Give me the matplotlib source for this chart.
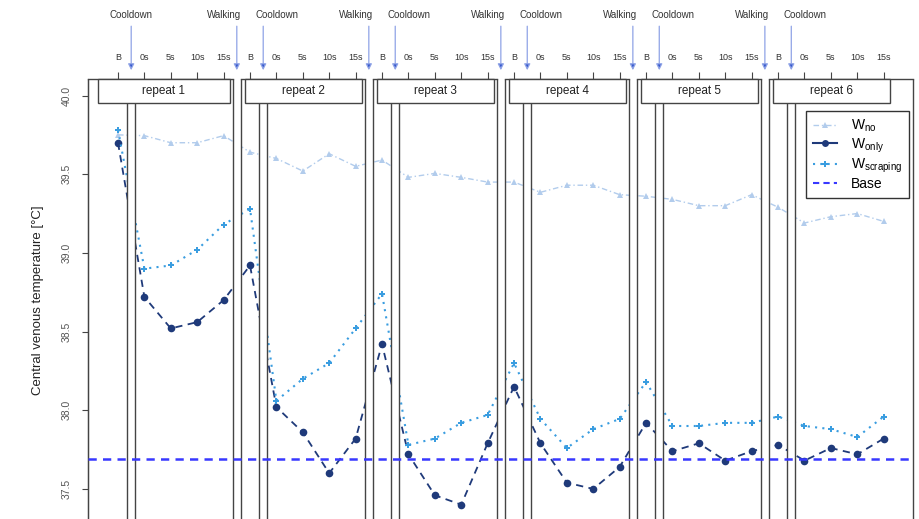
import numpy as np
import matplotlib
matplotlib.use("Agg")
from matplotlib import pyplot as plt
from matplotlib.lines import Line2D
from matplotlib.patches import Rectangle

plt.rcParams['font.family'] = ['Liberation Sans', 'DejaVu Sans']
plt.rcParams['mathtext.default'] = 'regular'

# data, per repeat: B, 0s, 5s, 10s, 15s
repeats = ["repeat 1", "repeat 2", "repeat 3", "repeat 4", "repeat 5", "repeat 6"]
time_labels = ["B", "0s", "5s", "10s", "15s"]
w_no = [39.75, 39.745, 39.70, 39.70, 39.745,
        39.64, 39.60, 39.52, 39.63, 39.55,
        39.59, 39.48, 39.505, 39.48, 39.45,
        39.45, 39.385, 39.43, 39.43, 39.37,
        39.36, 39.34, 39.30, 39.30, 39.37,
        39.29, 39.19, 39.23, 39.25, 39.20]
w_only = [39.70, 38.72, 38.52, 38.56, 38.70,
          38.92, 38.02, 37.86, 37.60, 37.82,
          38.42, 37.72, 37.46, 37.40, 37.79,
          38.15, 37.79, 37.54, 37.50, 37.64,
          37.92, 37.74, 37.79, 37.68, 37.74,
          37.78, 37.68, 37.76, 37.72, 37.82]
w_scraping = [39.78, 38.90, 38.92, 39.02, 39.18,
              39.28, 38.06, 38.20, 38.30, 38.52,
              38.74, 37.78, 37.82, 37.92, 37.97,
              38.30, 37.945, 37.76, 37.88, 37.945,
              38.18, 37.90, 37.90, 37.92, 37.92,
              37.96, 37.90, 37.88, 37.83, 37.96]
base = 37.69

c_no = "#b2ccec"
c_only = "#1f3a7a"
c_scr = "#3a9de0"
c_base = "#3838ff"
c_frame = "#444444"

x = np.arange(len(w_only))
xmin, xmax = -1.136, 30.11
ymin, ymax = 37.309, 40.105
strip_bot = 39.952
hw = 0.15

fig = plt.figure(figsize=(9.2, 5.19), dpi=100)
ax = fig.add_axes([88 / 920, 0, (913 - 88) / 920, 1 - 79 / 519])
ax.set_xlim(xmin, xmax)
ax.set_ylim(ymin, ymax)

ax.plot(x, w_no, color=c_no, lw=1, ls=(0, (4, 2, 1, 2)), marker="^", ms=4.5, mew=0, zorder=2)
ax.plot(x, w_only, color=c_only, lw=1.3, ls=(0, (4, 3)), marker="o", ms=5.5, mew=0, zorder=2)
ax.plot(x, w_scraping, color=c_scr, lw=1.5, ls=(0, (1, 2.5)), marker="P", ms=5, mew=0, zorder=2)

# gaps between panels: cooldown (B -> 0s) and walking (15s -> next B)
cooldowns = [5 * k + 0.5 for k in range(6)]
walkings = [5 * k + 4.5 for k in range(5)]
for g in cooldowns + walkings:
    ax.axvspan(g - hw, g + hw, color="white", zorder=3, lw=0)
for g in cooldowns:
    ax.vlines([g - hw, g + hw], ymin, strip_bot, color=c_frame, lw=1, zorder=4)
for g in walkings:
    ax.vlines([g - hw, g + hw], ymin, ymax, color=c_frame, lw=1, zorder=4, clip_on=False)
ax.vlines([xmin, xmax], ymin, ymax, color=c_frame, lw=1, zorder=4, clip_on=False)
edges = [xmin] + [e for g in walkings for e in (g - hw, g + hw)] + [xmax]
for a, b in zip(edges[::2], edges[1::2]):
    ax.plot([a, b], [ymax, ymax], color=c_frame, lw=1, zorder=4, clip_on=False)

ax.axhline(base, color=c_base, lw=1.8, ls=(0, (3.3, 2.5)), zorder=5)

# strips
for k, name in enumerate(repeats):
    left = -0.76 if k == 0 else 5 * k - 0.2
    right = 5 * k + 4.24
    ax.add_patch(Rectangle((left, strip_bot), right - left, ymax - strip_bot,
                           facecolor="white", edgecolor=c_frame, lw=1, zorder=6, clip_on=False))
    ax.text((left + right) / 2, (strip_bot + ymax) / 2, name, ha="center", va="center",
            fontsize=8.5, color="#222222", zorder=7)

# arrows and event labels
for k, g in enumerate(cooldowns):
    ax.annotate("", xy=(g, 1.02), xytext=(g, 1.12), xycoords=("data", "axes fraction"),
                arrowprops=dict(arrowstyle="-|>", color="#8fa3e6", fc="#3558cc", lw=0.9,
                                mutation_scale=9, shrinkA=0, shrinkB=0))
    ax.annotate("Cooldown", xy=(g, 1.145), xycoords=("data", "axes fraction"),
                xytext=(0 if k == 0 else 14, 0), textcoords="offset pixels",
                ha="center", va="center", fontsize=7, color="#333333")
for g in walkings:
    ax.annotate("", xy=(g, 1.02), xytext=(g, 1.12), xycoords=("data", "axes fraction"),
                arrowprops=dict(arrowstyle="-|>", color="#8fa3e6", fc="#3558cc", lw=0.9,
                                mutation_scale=9, shrinkA=0, shrinkB=0))
    ax.annotate("Walking", xy=(g, 1.145), xycoords=("data", "axes fraction"),
                xytext=(-13, 0), textcoords="offset pixels",
                ha="center", va="center", fontsize=7, color="#333333")

# axes
for s in ["top", "right", "bottom"]:
    ax.spines[s].set_visible(False)
ax.spines["left"].set_color(c_frame)
ax.set_xticks(x)
ax.set_xticklabels(time_labels * len(repeats))
ax.tick_params(axis="x", top=True, labeltop=True, bottom=False, labelbottom=False,
               length=5, pad=7, labelsize=6.5, color=c_frame, labelcolor="#333333")
yt = [37.5, 38.0, 38.5, 39.0, 39.5, 40.0]
ax.set_yticks(yt)
ax.set_yticklabels([f"{v:.1f}" for v in yt], rotation=90, va="center")
ax.tick_params(axis="y", length=4.5, pad=7.5, labelsize=7.5, color=c_frame, labelcolor="#555555")
fig.text(38 / 920, 1 - 300 / 519, "Central venous temperature [°C]", rotation=90,
         ha="center", va="center", fontsize=9.5, color="#222222")

handles = [
    Line2D([], [], color=c_no, lw=1, ls=(0, (4, 2, 1, 2)), marker="^", ms=4.5, mew=0),
    Line2D([], [], color=c_only, lw=1.5, marker="o", ms=5, mew=0),
    Line2D([], [], color=c_scr, lw=1.5, ls=(0, (1, 2.5)), marker="P", ms=5, mew=0),
    Line2D([], [], color=c_base, lw=1.5, ls=(0, (3, 2))),
]
labels = ["W$_{no}$", "W$_{only}$", "W$_{scraping}$", "Base"]
leg = ax.legend(handles, labels, loc="upper right", bbox_to_anchor=(909 / 920, 1 - 111 / 519),
                bbox_transform=fig.transFigure, borderaxespad=0, fontsize=10,
                handlelength=1.7, handletextpad=1.0, labelspacing=0.15, fancybox=False,
                edgecolor="#333333", framealpha=1, borderpad=0.5)
leg.get_frame().set_linewidth(1)
leg.set_zorder(8)

fig.savefig("out.png", dpi=100)
